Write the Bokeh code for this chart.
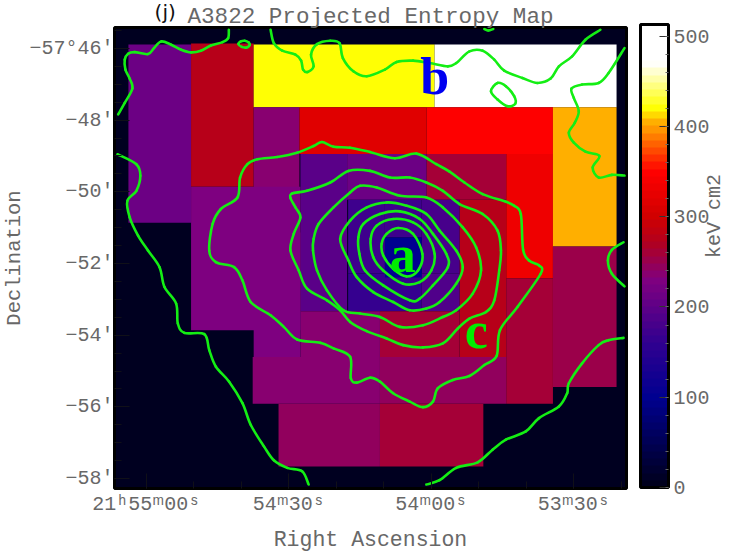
import math
from bokeh.plotting import figure
from bokeh.models import (ColumnDataSource, LinearColorMapper, ColorBar, FixedTicker, Label, Range1d, LinearAxis)
from bokeh.embed import file_html
from bokeh.resources import INLINE

# ---- map grid (image pixel) -> sky reference
RA_TICKS_S = [3300, 3270, 3240, 3210]
RA_MINOR_S = [3320 - 10 * i for i in range(1, 13)]
RA_LABELS = ["21\u02b055\u1d5000\u02e2", "54\u1d5030\u02e2", "54\u1d5000\u02e2", "53\u1d5030\u02e2"]
DEC_TICKS = [-46, -48, -50, -52, -54, -56, -58]
DEC_LABELS = ["\u221257\u00b046\u2032", "\u221248\u2032", "\u221250\u2032", "\u221252\u2032", "\u221254\u2032", "\u221256\u2032", "\u221258\u2032"]
CBAR_TICKS = [0, 100, 200, 300, 400, 500]

# ---- entropy cells: left, right, top, bottom (map grid), keV cm2
cell_x0 = [127, 190, 253, 435, 253, 299, 427, 507, 554, 554, 507, 300, 347, 427, 460, 348, 385, 348, 422, 422, 380, 300, 190, 253, 252, 380, 278, 380]
cell_x1 = [190, 253, 435, 618, 299, 427, 554, 554, 618, 618, 554, 347, 427, 507, 507, 385, 422, 422, 460, 460, 460, 380, 300, 300, 380, 507, 380, 484]
cell_y0 = [43, 42, 43, 43, 106, 106, 106, 153, 106, 246, 278, 153, 153, 153, 199, 199, 199, 273, 199, 273, 311, 311, 186, 232, 357, 357, 404, 404]
cell_y1 = [222, 186, 106, 106, 232, 153, 153, 278, 246, 387, 404, 311, 199, 199, 357, 273, 237, 311, 273, 311, 357, 357, 330, 357, 404, 404, 467, 467]
cell_s = [216, 275, 420, 500, 238, 315, 350, 335, 406, 251, 259, 200, 216, 262, 275, 176, 176, 163, 183, 185, 262, 237, 232, 232, 237, 248, 248, 259]
core_x0, core_x1, core_y0, core_y1, core_s = [385], [422], [237], [277], [100]

# ---- contours (map grid)
contours_open = [
    [(116.7,113.3),(123.3,101.7),(131,87.3),(128.3,77.3),(124,68.3),(123.3,58.3),(126.7,52.3),(133.3,50.7),(146.7,52.7),(152.7,46.7),(160,40),(170,43.3),(180,48.3),(190,51),(200,49.3),(210,44),(221.7,40.7),(227.3,36.7),(228,28.3)],
    [(270,28.3),(273.3,41.7),(281.7,49.3),(295,53.3),(300.7,59.3),(302.7,68.3),(307.3,70.7),(313.3,65),(310.7,53.3),(316.7,42.7),(330,39.3),(339.3,41.7),(342.7,56.7),(353.3,70),(366.7,75),(385,68.3),(396.7,60.7),(413.3,59.3),(430,61.7),(448.3,65),(456.7,61.7),(470,50),(483.3,49.3),(495,58.3),(505,69.3),(523.3,76.7),(538.3,81.7),(551.7,77.3),(560,65),(573.3,55),(586.7,38.3),(601.7,28.3)],
    [(485,27.5),(489,29),(494,27.5)],
    [(626,46.7),(610,71.7),(600,81.7),(583.3,83.3),(572.7,87.3),(575,96.7),(580,110),(576,121.7),(570,131.7),(575,141.7),(586.7,150.7),(600.7,155),(594,166.7),(600,176.7),(613.3,174),(626,174.7)],
    [(625,241.7),(613.3,249.3),(609.3,260),(613.3,273.3),(626,286)],
    [(426.7,485),(440,480.7),(456.7,468.3),(478.3,462.7),(493.3,450),(506.7,440),(526.7,431.7),(540,418.3),(560,406.7),(568.3,393.3),(570,383.3),(583.3,363.3),(600,345),(610,340),(625,337.7)],
    [(116,153.3),(135,163.3),(139,175),(135,190),(126,200),(128.3,216.7),(136.7,235),(146.7,250),(158.3,266.7),(163.3,286.7),(175,303.3),(176.7,323.3),(183.3,332.7),(203.3,334),(208.3,350),(215,366.7),(228.3,381.7),(241.7,403.3),(250,425),(263.3,446.7),(273.3,460.7),(286.7,468.3),(301.7,471.7),(308.3,485)],
]
contours_closed = [
    [(237.7,42.7),(240,40),(244,39.3),(248,41),(249,43.5),(246,46),(241,45.5)],
    [(491.7,90),(498.3,81.7),(506.7,85),(515,95),(516,102.7),(508.3,105),(498.3,98.3)],
    [(321.7,141),(313.3,145),(296.7,151.7),(276.7,156),(256.7,158.3),(246.7,163.3),(239.3,176.7),(236.7,196.7),(220,208.3),(211.7,223.3),(208.3,250),(215,261.7),(233.3,266.7),(241.7,280),(250,301.7),(270,315),(283.3,326.7),(296.7,339.3),(320,342.7),(333.3,348.3),(350,356.7),(350.7,378.3),(356.7,382.7),(370,377.7),(380,381.7),(393.3,393.3),(410,401.7),(423.3,407.3),(433.3,401.7),(438.3,388.3),(453.3,380),(470,376),(485,365),(497.3,356),(500.7,330),(518.3,306.7),(541.7,273.3),(540,265),(530,260),(524,249.3),(521.7,213.3),(515,205),(506.7,201),(483.3,193.3),(465,181.7),(450,170.7),(436.7,163.3),(416.7,152.7),(395,157.3),(370,151),(350,146.7),(333.3,145.7)],
    [(370,170),(348.3,170),(330,181.7),(306.7,190),(291.7,192.7),(290,197.3),(295,206.7),(300,216.7),(293.3,233.3),(290,250),(298.3,270),(306.7,288.3),(326.7,300),(340,310),(350,321.7),(366.7,331),(386.7,338.3),(403.3,345),(423.3,347.3),(443.3,343.3),(458.3,328.3),(470,318.3),(486.7,311.7),(495,300),(500,270),(501.7,250),(498.3,230),(483.3,213.3),(460,203.3),(443.3,190),(426.7,181.7),(410,176.7),(390,176.7)],
    [(313.3,238.3),(318.3,223.3),(333.3,206.7),(350,191.7),(360,185),(376.7,186.7),(400,195),(426.7,196.7),(443.3,206.7),(463.3,226.7),(476.7,246.7),(481.7,270),(473.3,293.3),(456.7,310),(443.3,316.7),(423.3,325),(400,326.7),(380,316.7),(360,313.3),(343.3,310),(326.7,290),(316.7,270),(312.7,250)],
    [(340,238.3),(350,220),(366.7,206.7),(386.7,201.7),(406.7,205),(426.7,213.3),(440,230),(456.7,250),(463.3,266.7),(456.7,283.3),(440,301.7),(426.7,308.3),(410,310),(393.3,301.7),(373.3,291.7),(356.7,276.7),(348.3,260)],
    [(358.3,236.7),(363.3,223.3),(380,213.3),(400,210.7),(420,218.3),(433.3,233.3),(446.7,253.3),(448.3,266.7),(433.3,285),(420,298.3),(410,300),(383.3,285),(365,270),(359.3,253.3)],
    [(370.7,238.3),(376.7,225),(393.3,218.3),(413.3,221.7),(426.7,233.3),(435,253.3),(431.7,270),(420,281.7),(403.3,283.3),(383.3,270),(373.3,256.7)],
    [(381.7,243.3),(386.7,233.3),(398.3,227.3),(413.3,233.3),(422.7,253.3),(418.3,270),(406.7,276),(393.3,268.3),(383.3,255)],
]

# ---- colour table
ANCHORS = [(0,"#000018"),(100,"#000090"),(160,"#300090"),(230,"#800080"),(270,"#b00020"),(300,"#d00000"),
           (350,"#ff0000"),(380,"#ff6000"),(405,"#ffb000"),(420,"#ffff00"),(470,"#ffffff"),(513,"#ffffff")]
def rgb(h): return [int(h[i:i+2],16) for i in (1,3,5)]
def cmap(v):
    for (a,ca),(b,cb) in zip(ANCHORS,ANCHORS[1:]):
        if v<=b:
            t=(v-a)/(b-a); A,B=rgb(ca),rgb(cb)
            return "#%02x%02x%02x"%tuple(round(A[i]+(B[i]-A[i])*t) for i in range(3))
    return "#ffffff"
N=64
palette=[cmap((i+.5)*513/N) for i in range(N)]
mapper=LinearColorMapper(palette=palette,low=0,high=513)

FX0,FX1,FY0,FY1=113,628,26,489
def ra_to_x(s): return 145+(3300-s)*143.3/30
def dec_to_y(d): return 47+(-46-d)*36

p=figure(width=740,height=554,x_range=Range1d(FX0,FX1),y_range=Range1d(FY1,FY0),
         min_border_left=113,min_border_top=26,min_border_bottom=65,min_border_right=112,
         output_backend="svg",toolbar_location=None,background_fill_color="#000020",
         border_fill_color="white",outline_line_color="#000000",outline_line_width=3)
p.grid.visible=False

src=ColumnDataSource(dict(l=cell_x0+core_x0,r=cell_x1+core_x1,t=cell_y0+core_y0,b=cell_y1+core_y1,s=cell_s+core_s))
p.quad(left="l",right="r",top="t",bottom="b",source=src,fill_color={"field":"s","transform":mapper},line_color=None)

def seg_data(pts,closed):
    n=len(pts); d=dict(x0=[],y0=[],x1=[],y1=[],cx0=[],cy0=[],cx1=[],cy1=[])
    for i in range(n if closed else n-1):
        if closed:
            a,b,c,e=pts[(i-1)%n],pts[i],pts[(i+1)%n],pts[(i+2)%n]
        else:
            a,b,c,e=pts[max(i-1,0)],pts[i],pts[i+1],pts[min(i+2,n-1)]
        d["x0"].append(b[0]);d["y0"].append(b[1]);d["x1"].append(c[0]);d["y1"].append(c[1])
        d["cx0"].append(b[0]+(c[0]-a[0])/6);d["cy0"].append(b[1]+(c[1]-a[1])/6)
        d["cx1"].append(c[0]-(e[0]-b[0])/6);d["cy1"].append(c[1]-(e[1]-b[1])/6)
    return d
GREEN="#14ee14"
for pts,cl in [(c,False) for c in contours_open]+[(c,True) for c in contours_closed]:
    p.bezier("x0","y0","x1","y1","cx0","cy0","cx1","cy1",source=ColumnDataSource(seg_data(pts,cl)),
             line_color=GREEN,line_width=2.6,line_cap="round")

# axes
AX_FONT="Liberation Mono"; GREY="#686868"; TICK="#101018"
xax=p.xaxis[0]; yax=p.yaxis[0]
xt=[ra_to_x(s) for s in RA_TICKS_S]; yt=[dec_to_y(d) for d in DEC_TICKS]
xax.ticker=FixedTicker(ticks=xt,minor_ticks=[ra_to_x(s) for s in RA_MINOR_S])
yax.ticker=FixedTicker(ticks=yt,minor_ticks=[dec_to_y(-45.5-0.5*i) for i in range(26)])
xax.major_label_overrides=dict(zip(xt,RA_LABELS)); yax.major_label_overrides=dict(zip(yt,DEC_LABELS))
for ax in (xax,yax):
    ax.major_tick_in=15; ax.major_tick_out=0; ax.minor_tick_in=7; ax.minor_tick_out=0
    ax.major_tick_line_color=TICK; ax.minor_tick_line_color=TICK; ax.axis_line_color=None
    ax.major_label_text_font=AX_FONT; ax.major_label_text_font_size="20px"; ax.major_label_text_color=GREY
    ax.axis_label_text_font=AX_FONT; ax.axis_label_text_color=GREY
    ax.axis_label_text_font_style="normal"
xax.axis_label="Right Ascension"; yax.axis_label="Declination"
xax.axis_label_text_font_size="21.5px"; yax.axis_label_text_font_size="20.5px"
xax.major_label_standoff=4; xax.axis_label_standoff=9
yax.major_label_standoff=1; yax.axis_label_standoff=0

# colour bar
cb=ColorBar(color_mapper=mapper,width=28,height=463,margin=0,padding=0,location=(526,1),
            ticker=FixedTicker(ticks=CBAR_TICKS,minor_ticks=list(range(0,520,20))),
            bar_line_color="#000000",bar_line_width=3,major_tick_line_color="#333333",minor_tick_line_color="#666666",
            major_tick_in=9,major_tick_out=0,minor_tick_in=3,minor_tick_out=0,
            major_label_text_font=AX_FONT,major_label_text_font_size="20px",major_label_text_color=GREY,
            label_standoff=5,border_line_color=None,background_fill_color=None)
p.add_layout(cb)

# heading: panel tag as a tick label, title as the axis label, on one row above the frame
top=LinearAxis(ticker=FixedTicker(ticks=[164]),major_label_overrides={164:"(j)"},axis_line_color=None,
               major_tick_line_color=None,minor_tick_line_color=None,major_tick_in=0,major_tick_out=0,minor_tick_in=0,minor_tick_out=0,
               major_label_text_font="DejaVu Sans",major_label_text_font_size="20px",major_label_text_color="#111111",
               major_label_standoff=4,axis_label="A3822 Projected Entropy Map",axis_label_standoff=-33,
               axis_label_text_font=AX_FONT,axis_label_text_font_size="22.6px",axis_label_text_color=GREY,
               axis_label_text_font_style="normal")
p.add_layout(top,"above")
# colour bar unit, on its own axis
unit=LinearAxis(ticker=FixedTicker(ticks=[]),axis_line_color=None,major_tick_line_color=None,minor_tick_line_color=None,
                major_tick_in=0,major_tick_out=0,minor_tick_in=0,minor_tick_out=0,
                major_label_text_font_size="0px",axis_label="keV cm2",axis_label_standoff=88,
                axis_label_orientation=math.pi/2,axis_label_text_font=AX_FONT,axis_label_text_font_size="20px",
                axis_label_text_baseline="top",axis_label_text_color=GREY,axis_label_text_font_style="normal")
p.add_layout(unit,"right")

# annotations in map grid
def txt(x,y,t,font,size,color):
    p.add_layout(Label(x=x,y=y,text=t,text_font=font,text_font_size=size,text_color=color,text_align="center",
                       text_baseline="middle",text_font_style="bold"))
txt(403,254,"a","Liberation Serif","52px","#00ee00")
txt(435,75,"b","Liberation Serif","52px","#0000f0")
txt(477,330,"c","Liberation Serif","52px","#00ee00")

open("out.html","w").write(file_html(p,INLINE))
